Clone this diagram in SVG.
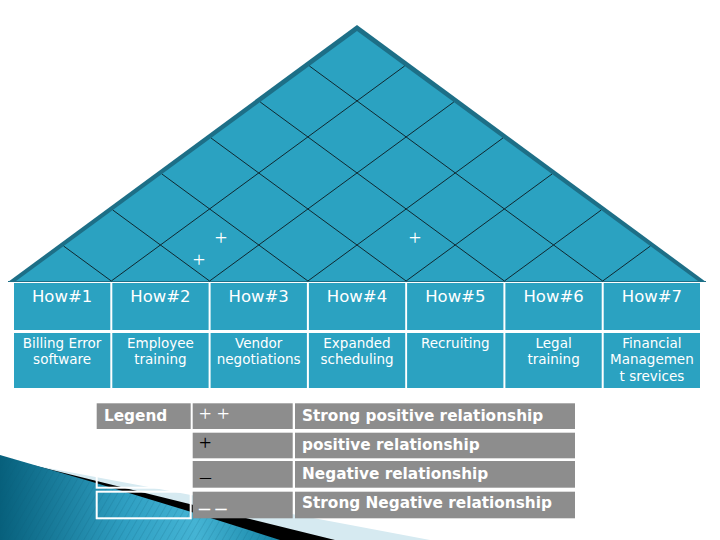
<svg xmlns="http://www.w3.org/2000/svg" width="720" height="540" viewBox="0 0 720 540">
<style>
.teal{fill:#2ba2c1}
.hdr{font-family:"DejaVu Sans",sans-serif;font-size:16.5px;fill:#fff;text-anchor:middle}
.sub{font-family:"DejaVu Sans",sans-serif;font-size:13.5px;fill:#fff;text-anchor:middle}
.grid{stroke:#102830;stroke-width:1;fill:none}
.gray{fill:#8d8d8d}
.lg{font-family:"DejaVu Sans",sans-serif;font-weight:bold;font-size:15.3px;fill:#fff}
.sym{font-family:"Liberation Serif",serif;font-size:22px}
.plus{font-family:"Liberation Serif",serif;font-size:22px;fill:#fff;text-anchor:middle}
.cellbox{fill:none;stroke:#fff;stroke-width:2}
</style>
<defs>
<linearGradient id="blueG" x1="0" y1="0" x2="1" y2="0">
<stop offset="0" stop-color="#07607c"/>
<stop offset="0.45" stop-color="#2f9fc2"/>
<stop offset="0.7" stop-color="#45b4d4"/>
<stop offset="1" stop-color="#1685a6"/>
</linearGradient>
<pattern id="hatch" width="6" height="6" patternUnits="userSpaceOnUse" patternTransform="rotate(30)">
<line x1="0" y1="0" x2="0" y2="6" stroke="#0a5a75" stroke-width="1" stroke-opacity="0.35"/>
</pattern>
</defs>
<rect width="720" height="540" fill="#fff"/>

<g id="decoration">
<path d="M0,459 L430,540 L0,540 Z" fill="#d6eaf1"/>
<path d="M28,464 L335,540 L0,540 Z" fill="#000"/>
<path d="M0,455 Q140,495 280,540 L0,540 Z" fill="url(#blueG)"/>
<path d="M0,455 Q140,495 280,540 L0,540 Z" fill="url(#hatch)"/>
</g>

<g id="roof">
<polygon points="8,282 357,25 706,282" fill="#1d6f87"/>
<polygon points="16,281 357,31 698,281" class="teal"/>
<line x1="8" y1="281.5" x2="706" y2="281.5" stroke="#1d6f87" stroke-width="1"/>
</g>

<g id="connectors">
<line class="grid" x1="111.3" y1="281" x2="63.65" y2="246.07"/>
<line class="grid" x1="111.3" y1="281" x2="404.65" y2="65.97"/>
<line class="grid" x1="209.6" y1="281" x2="112.8" y2="210.05"/>
<line class="grid" x1="209.6" y1="281" x2="453.8" y2="102"/>
<line class="grid" x1="307.9" y1="281" x2="161.95" y2="174.02"/>
<line class="grid" x1="307.9" y1="281" x2="502.95" y2="138.03"/>
<line class="grid" x1="406.1" y1="281" x2="211.05" y2="138.03"/>
<line class="grid" x1="406.1" y1="281" x2="552.05" y2="174.02"/>
<line class="grid" x1="504.4" y1="281" x2="260.2" y2="102"/>
<line class="grid" x1="504.4" y1="281" x2="601.2" y2="210.05"/>
<line class="grid" x1="602.7" y1="281" x2="309.35" y2="65.97"/>
<line class="grid" x1="602.7" y1="281" x2="650.35" y2="246.07"/>
</g>

<g id="roof-marks">
<text class="plus" x="221" y="245">+</text>
<text class="plus" x="199" y="267">+</text>
<text class="plus" x="415" y="245">+</text>
</g>

<g id="how1">
<rect class="teal" x="14" y="283" width="96.3" height="47"/>
<rect class="teal" x="14" y="333" width="96.3" height="55"/>
<text class="hdr" x="62.1" y="302">How#1</text>
<text class="sub" x="62.1" y="348">Billing Error</text>
<text class="sub" x="62.1" y="364">software</text>
</g>
<g id="how2">
<rect class="teal" x="112.3" y="283" width="96.3" height="47"/>
<rect class="teal" x="112.3" y="333" width="96.3" height="55"/>
<text class="hdr" x="160.4" y="302">How#2</text>
<text class="sub" x="160.4" y="348">Employee</text>
<text class="sub" x="160.4" y="364">training</text>
</g>
<g id="how3">
<rect class="teal" x="210.6" y="283" width="96.3" height="47"/>
<rect class="teal" x="210.6" y="333" width="96.3" height="55"/>
<text class="hdr" x="258.7" y="302">How#3</text>
<text class="sub" x="258.7" y="348">Vendor</text>
<text class="sub" x="258.7" y="364">negotiations</text>
</g>
<g id="how4">
<rect class="teal" x="308.9" y="283" width="96.3" height="47"/>
<rect class="teal" x="308.9" y="333" width="96.3" height="55"/>
<text class="hdr" x="357" y="302">How#4</text>
<text class="sub" x="357" y="348">Expanded</text>
<text class="sub" x="357" y="364">scheduling</text>
</g>
<g id="how5">
<rect class="teal" x="407.1" y="283" width="96.3" height="47"/>
<rect class="teal" x="407.1" y="333" width="96.3" height="55"/>
<text class="hdr" x="455.3" y="302">How#5</text>
<text class="sub" x="455.3" y="348">Recruiting</text>
</g>
<g id="how6">
<rect class="teal" x="505.4" y="283" width="96.3" height="47"/>
<rect class="teal" x="505.4" y="333" width="96.3" height="55"/>
<text class="hdr" x="553.6" y="302">How#6</text>
<text class="sub" x="553.6" y="348">Legal</text>
<text class="sub" x="553.6" y="364">training</text>
</g>
<g id="how7">
<rect class="teal" x="603.7" y="283" width="96.3" height="47"/>
<rect class="teal" x="603.7" y="333" width="96.3" height="55"/>
<text class="hdr" x="651.9" y="302">How#7</text>
<text class="sub" x="651.9" y="348">Financial</text>
<text class="sub" x="651.9" y="364">Managemen</text>
<text class="sub" x="651.9" y="381">t srevices</text>
</g>

<g id="legend">
<rect class="gray" x="96.7" y="403.3" width="94" height="25.7"/>
<text class="lg" x="104" y="421">Legend</text>
<rect class="cellbox" x="96.7" y="432.7" width="94" height="25.6"/>
<rect class="cellbox" x="96.7" y="461" width="94" height="26.7"/>
<rect class="cellbox" x="96.7" y="491.7" width="94" height="26.6"/>
</g>
<g id="legend-strong-pos">
<rect class="gray" x="192.7" y="403.3" width="100" height="25.7"/>
<rect class="gray" x="295" y="403.3" width="280" height="25.7"/>
<text class="sym" x="199" y="421" fill="#fff">+ +</text>
<text class="lg" x="302" y="421">Strong positive relationship</text>
</g>
<g id="legend-pos">
<rect class="gray" x="192.7" y="432.7" width="100" height="25.6"/>
<rect class="gray" x="295" y="432.7" width="280" height="25.6"/>
<text class="sym" x="199" y="450" fill="#000">+</text>
<text class="lg" x="302" y="450">positive relationship</text>
</g>
<g id="legend-neg">
<rect class="gray" x="192.7" y="461" width="100" height="26.7"/>
<rect class="gray" x="295" y="461" width="280" height="26.7"/>
<text class="sym" x="200" y="476" fill="#000" font-size="18px">_</text>
<text class="lg" x="302" y="479">Negative relationship</text>
</g>
<g id="legend-strong-neg">
<rect class="gray" x="192.7" y="491.7" width="100" height="26.6"/>
<rect class="gray" x="295" y="491.7" width="280" height="26.6"/>
<text class="sym" x="199" y="507" fill="#fff" font-weight="bold" font-size="18px">_ _</text>
<text class="lg" x="302" y="508">Strong Negative relationship</text>
</g>
</svg>
